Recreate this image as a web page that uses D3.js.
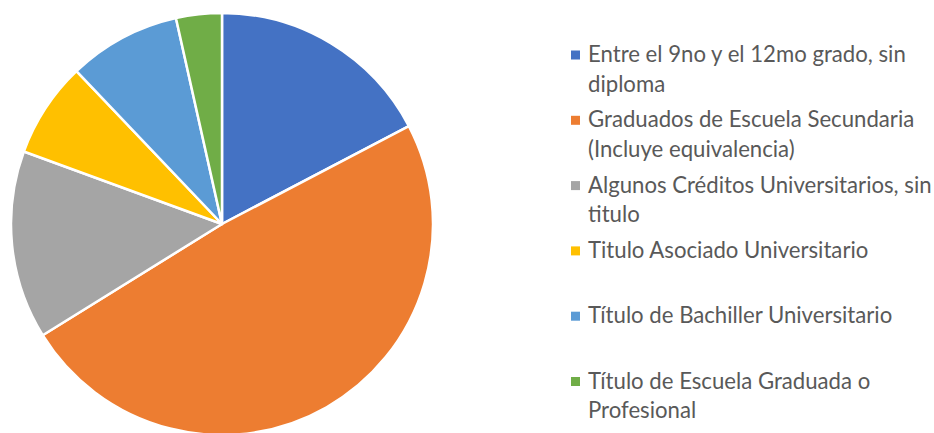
<!DOCTYPE html>
<html>
<head>
<meta charset="utf-8">
<script src="https://cdn.jsdelivr.net/npm/d3@7"></script>
<style>
  html, body { margin: 0; padding: 0; background: #fff; }
  svg { display: block; }
</style>
</head>
<body>
<svg id="chart" width="934" height="433"></svg>
<script>
// Nivel educativo: share of each category (percent)
const categories = [
  ["Entre el 9no y el 12mo grado, sin", "diploma"],
  ["Graduados de Escuela Secundaria", "(Incluye equivalencia)"],
  ["Algunos Créditos Universitarios, sin", "titulo"],
  ["Titulo Asociado Universitario"],
  ["Título de Bachiller Universitario"],
  ["Título de Escuela Graduada o", "Profesional"]
];
const values = [17.3, 48.8, 14.4, 7.3, 8.6, 3.5];
const colors = ["#4472C4", "#ED7D31", "#A5A5A5", "#FFC000", "#5B9BD5", "#70AD47"];

const svg = d3.select("#chart");
const cx = 222, cy = 224, radius = 211;

const data = values.map((v, i) => ({ label: categories[i], value: v, color: colors[i] }));

const pie = d3.pie().value(d => d.value).sort(null);
const arc = d3.arc().innerRadius(0).outerRadius(radius);

svg.append("g")
  .attr("transform", `translate(${cx},${cy})`)
  .selectAll("path")
  .data(pie(data))
  .join("path")
  .attr("d", arc)
  .attr("fill", d => d.data.color)
  .attr("stroke", "#fff")
  .attr("stroke-width", 2.5)
  .attr("stroke-linejoin", "round");

// Legend: each entry gets a two-line slot
const legendX = 571, textX = 588, firstBaseline = 62, slot = 65.3, lineGap = 29.5;
const fontFamily = "Lato, 'Open Sans', sans-serif";
const legend = svg.append("g").attr("font-family", fontFamily).attr("fill", "#595959");

// size the font so the longest legend line fits its column
const probe = legend.append("text").attr("font-size", 20).text(categories[0][0]);
const w = probe.node().getComputedTextLength();
probe.remove();
const fontSize = 20 * 318 / w;

data.forEach((d, i) => {
  const base = firstBaseline + i * slot;
  legend.append("rect")
    .attr("x", legendX).attr("y", base - 11.5)
    .attr("width", 9).attr("height", 9)
    .attr("fill", d.color);
  d.label.forEach((line, j) => {
    legend.append("text")
      .attr("x", textX).attr("y", base + j * lineGap)
      .attr("font-size", fontSize)
      .text(line);
  });
});
</script>
</body>
</html>
